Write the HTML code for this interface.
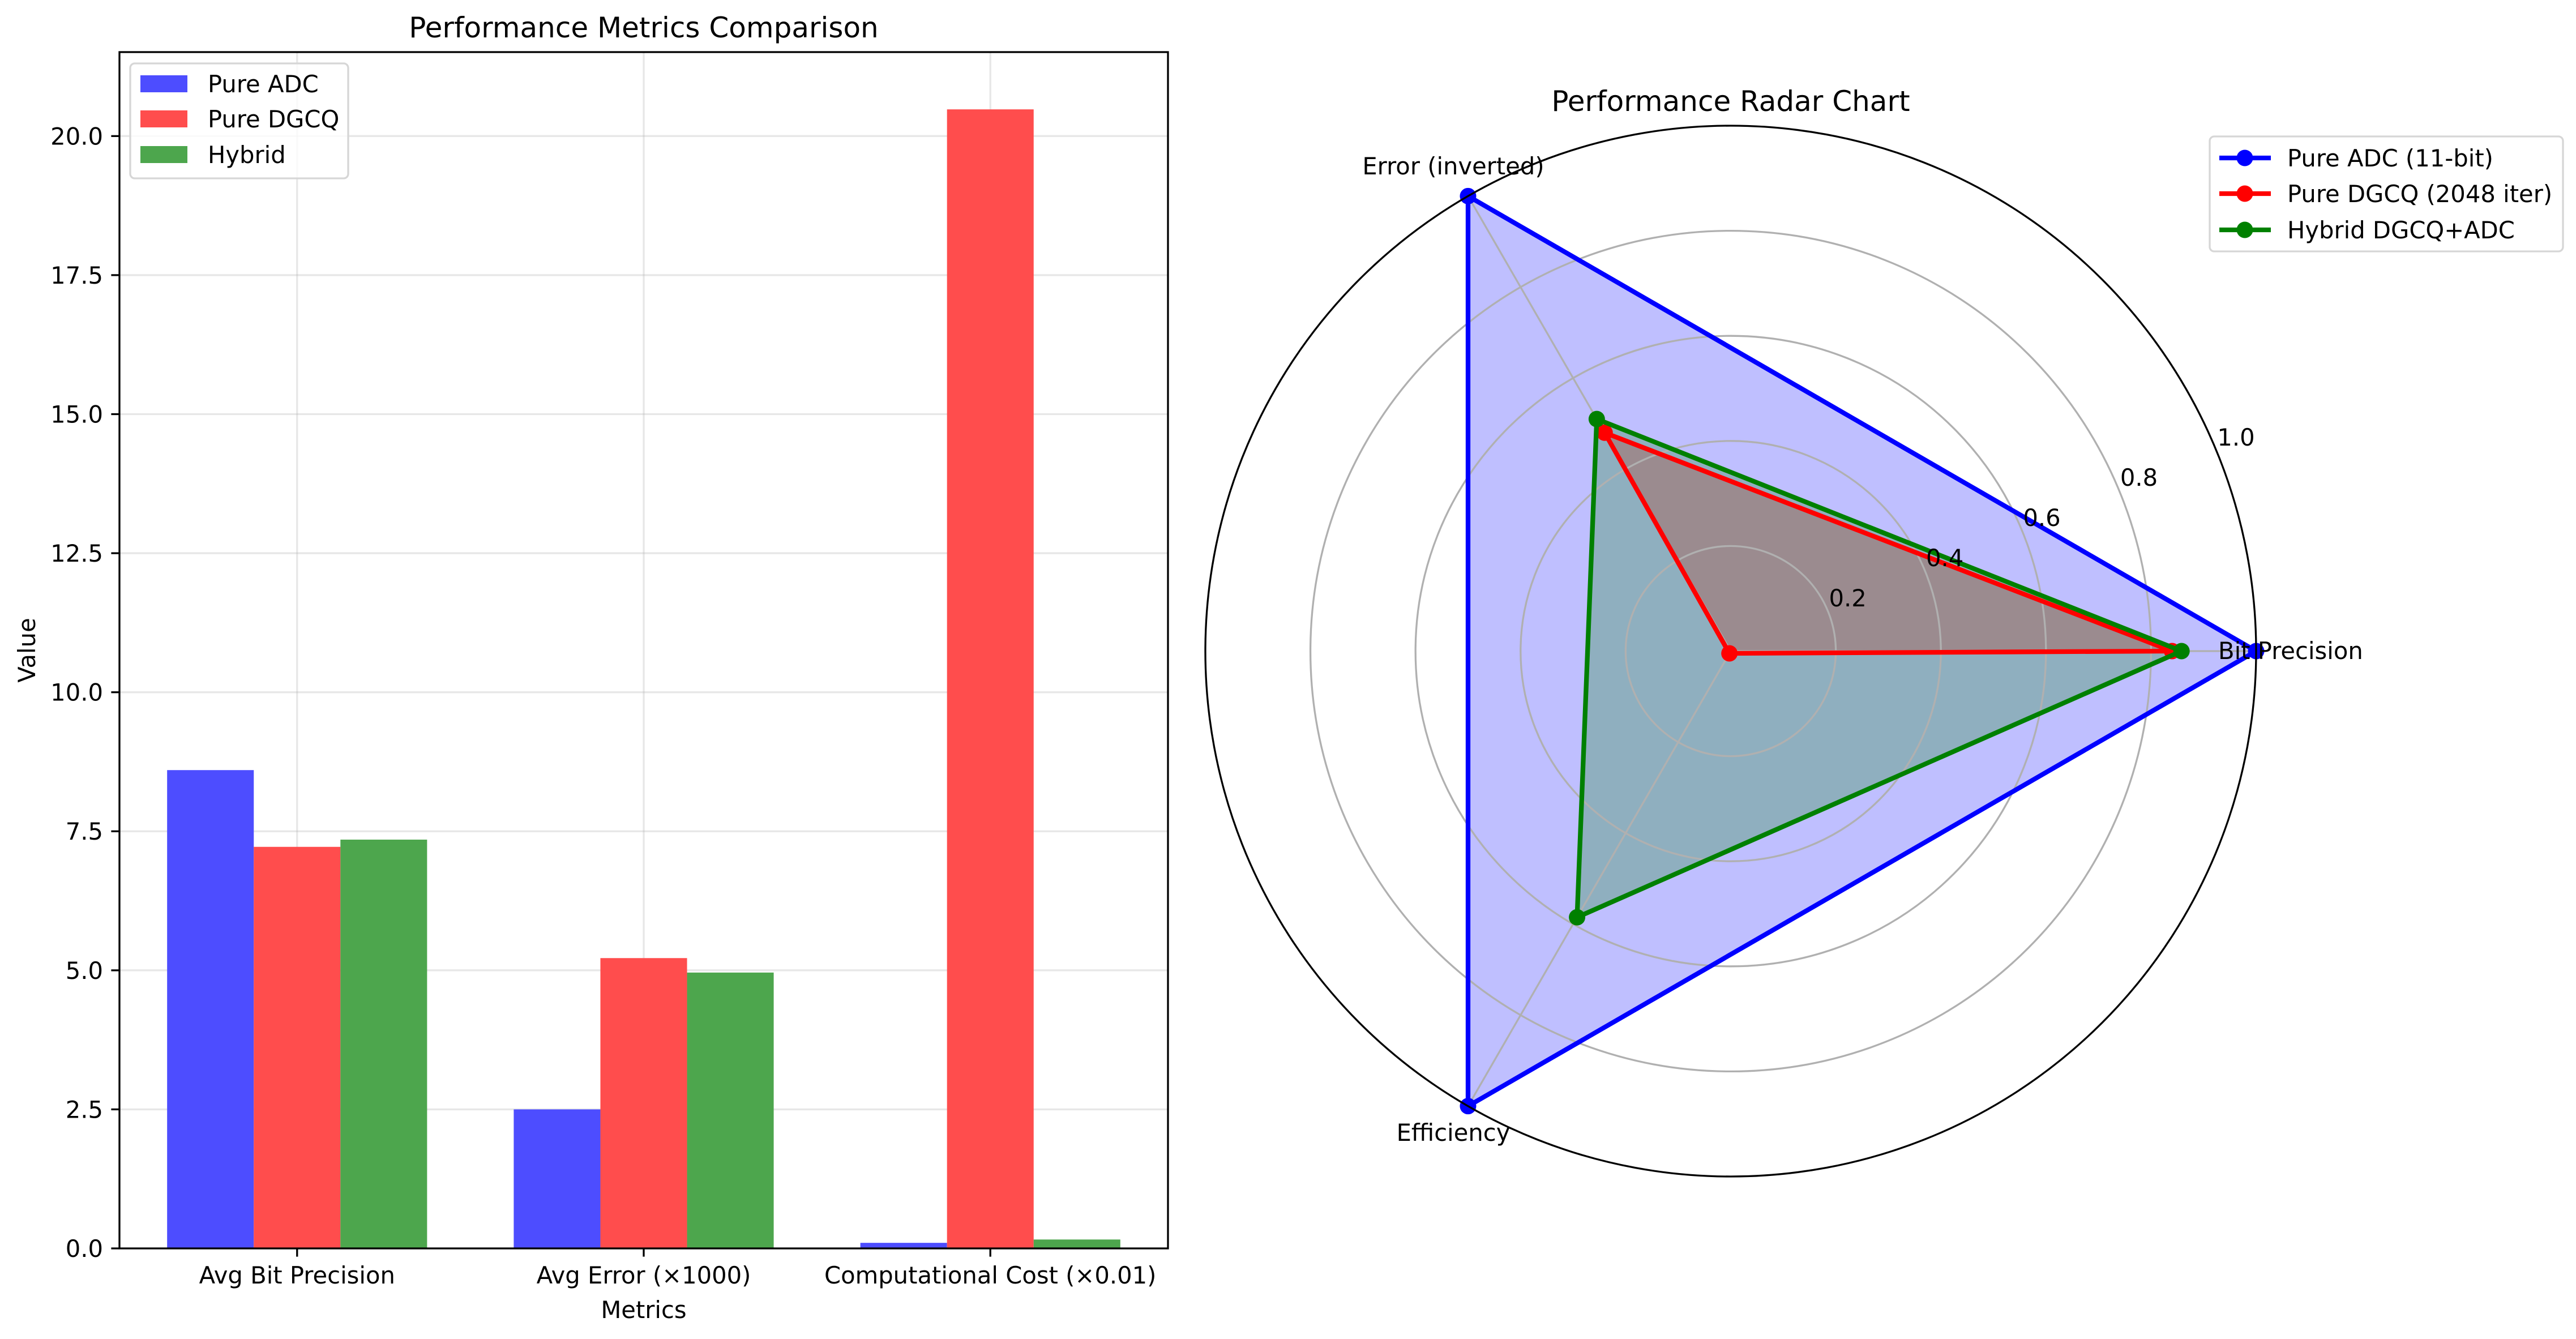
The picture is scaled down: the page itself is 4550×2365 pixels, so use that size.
<!DOCTYPE html>
<html><head><meta charset="utf-8">
<style>
html,body{margin:0;padding:0;background:#fff;}
svg{display:block;font-family:"DejaVu Sans","Liberation Sans",sans-serif;}
</style></head>
<body>
<svg id="chart" width="4550" height="2365" viewBox="0 0 4550 2365" xmlns="http://www.w3.org/2000/svg">
<rect width="4550" height="2365" fill="#fff"/>
<g id="bar"></g>
<g id="radar"></g>
</svg>
<script>
const categories = ["Avg Bit Precision", "Avg Error (\u00d71000)", "Computational Cost (\u00d70.01)"];
const seriesNames = ["Pure ADC", "Pure DGCQ", "Hybrid"];
const adcValues = [8.6, 2.5, 0.1];
const dgcqValues = [7.22, 5.22, 20.48];
const hybridValues = [7.35, 4.96, 0.16];
const yTicks = [0, 2.5, 5, 7.5, 10, 12.5, 15, 17.5, 20];
const yTickLabels = ["0.0", "2.5", "5.0", "7.5", "10.0", "12.5", "15.0", "17.5", "20.0"];

const radarAxes = ["Bit Precision", "Error (inverted)", "Efficiency"];
const radarNames = ["Pure ADC (11-bit)", "Pure DGCQ (2048 iter)", "Hybrid DGCQ+ADC"];
const radarADC = [1.0, 1.0, 1.0];
const radarDGCQ = [0.84, 0.48, 0.005];
const radarHybrid = [0.858, 0.51, 0.585];
const rTicks = [0.2, 0.4, 0.6, 0.8, 1.0];
const rTickLabels = ["0.2", "0.4", "0.6", "0.8", "1.0"];

const NS = "http://www.w3.org/2000/svg";
function mk(parent, tag, attrs, text) {
  const e = document.createElementNS(NS, tag);
  for (const k in attrs) e.setAttribute(k, attrs[k]);
  if (text !== undefined) e.textContent = text;
  parent.appendChild(e);
  return e;
}

// ---------- Bar chart ----------
const bar = document.getElementById('bar');
const AX = {l: 211, r: 2063, t: 92, b: 2205};
const xMin = -0.5125, xMax = 2.5125, yMin = 0, yMax = 21.51;
const xs = v => AX.l + (v - xMin) / (xMax - xMin) * (AX.r - AX.l);
const ys = v => AX.b - (v - yMin) / (yMax - yMin) * (AX.b - AX.t);
const FS = 41.7;

yTicks.forEach((t, i) => {
  const g = mk(bar, 'line', {x1: AX.l, x2: AX.r, y1: ys(t), y2: ys(t), stroke: '#b0b0b0', 'stroke-opacity': 0.3, 'stroke-width': 3.3});
  
  
});
categories.forEach((c, i) => {
  const g = mk(bar, 'line', {x1: xs(i), x2: xs(i), y1: AX.t, y2: AX.b, stroke: '#b0b0b0', 'stroke-opacity': 0.3, 'stroke-width': 3.3});
  
  
});

const allSeries = [adcValues, dgcqValues, hybridValues];
const barColors = ['#4d4dff', '#ff4d4d', '#4da64d'];
const bw = 0.25;
allSeries.forEach((vals, s) => {
  vals.forEach((v, i) => {
    const x0 = xs(i + (s - 1) * bw - bw / 2), x1 = xs(i + (s - 1) * bw + bw / 2);
    const r = mk(bar, 'rect', {x: x0, y: ys(v), width: x1 - x0, height: ys(0) - ys(v), fill: barColors[s]});
    
    
  });
});

const sp = mk(bar, 'rect', {x: AX.l, y: AX.t, width: AX.r - AX.l, height: AX.b - AX.t, fill: 'none', stroke: '#000', 'stroke-width': 3.3});



yTicks.forEach((t, i) => {
  const tl = mk(bar, 'line', {x1: AX.l - 14.6, x2: AX.l, y1: ys(t), y2: ys(t), stroke: '#000', 'stroke-width': 3.3});
  
  
  const tx = mk(bar, 'text', {x: AX.l - 29, y: ys(t) + 15, 'text-anchor': 'end', 'font-size': FS}, yTickLabels[i]);
  
  
});
categories.forEach((c, i) => {
  const tl = mk(bar, 'line', {x1: xs(i), x2: xs(i), y1: AX.b, y2: AX.b + 14.6, stroke: '#000', 'stroke-width': 3.3});
  
  
  const tx = mk(bar, 'text', {x: xs(i), y: AX.b + 62, 'text-anchor': 'middle', 'font-size': FS}, c);
  
  
});
let t;
t = mk(bar, 'text', {x: (AX.l + AX.r) / 2, y: 2328, 'text-anchor': 'middle', 'font-size': FS}, 'Metrics');


t = mk(bar, 'text', {x: 0, y: 0, 'text-anchor': 'middle', 'font-size': FS, transform: 'translate(62,' + (AX.t + AX.b) / 2 + ') rotate(-90)'}, 'Value');


t = mk(bar, 'text', {x: (AX.l + AX.r) / 2, y: 66, 'text-anchor': 'middle', 'font-size': 50}, 'Performance Metrics Comparison');



const lg = mk(bar, 'g', {});


mk(lg, 'rect', {x: 230, y: 112, width: 385, height: 203, rx: 8, fill: '#fff', 'fill-opacity': 0.8, stroke: '#d6d6d6', 'stroke-width': 3.3});
const lgRows = [148, 210, 273];
seriesNames.forEach((n, i) => {
  const e = mk(lg, 'g', {});
  
  
  mk(e, 'rect', {x: 248, y: lgRows[i] - 15, width: 83, height: 30, fill: barColors[i]});
  mk(e, 'text', {x: 367, y: lgRows[i] + 15, 'font-size': FS}, n);
});

// ---------- Radar ----------
const rad = document.getElementById('radar');
const CX = 3057, CY = 1150, R = 928;
const angles = radarAxes.map((a, i) => i * 2 * Math.PI / radarAxes.length);
const px = (r, a) => CX + r * R * Math.cos(a);
const py = (r, a) => CY - r * R * Math.sin(a);

const radarSeries = [radarADC, radarDGCQ, radarHybrid];
const radarColors = ['#0000ff', '#ff0000', '#008000'];
const ptsOf = vals => vals.map((v, i) => px(v, angles[i]) + ',' + py(v, angles[i])).join(' ');

// fills first
radarSeries.forEach((vals, s) => {
  const f = mk(rad, 'polygon', {points: ptsOf(vals), fill: radarColors[s], 'fill-opacity': 0.25, stroke: 'none'});
  
  
});

// gridlines above fills
rTicks.slice(0, -1).forEach(r => {
  const c = mk(rad, 'circle', {cx: CX, cy: CY, r: r * R, fill: 'none', stroke: '#b0b0b0', 'stroke-width': 3.3});
  
  
});
angles.forEach(a => {
  const l = mk(rad, 'line', {x1: CX, y1: CY, x2: px(1, a), y2: py(1, a), stroke: '#b0b0b0', 'stroke-width': 3.3});
  
  
});

// lines and markers
radarSeries.forEach((vals, s) => {
  const ln = mk(rad, 'polygon', {points: ptsOf(vals), fill: 'none', stroke: radarColors[s], 'stroke-width': 8.3, 'stroke-linejoin': 'miter'});
  
  
  vals.forEach((v, i) => {
    const m = mk(rad, 'circle', {cx: px(v, angles[i]), cy: py(v, angles[i]), r: 14.5, fill: radarColors[s]});
    
    
  });
});

const spine = mk(rad, 'circle', {cx: CX, cy: CY, r: R, fill: 'none', stroke: '#000', 'stroke-width': 3.3});



const la = 22.5 * Math.PI / 180;
rTicks.forEach((r, i) => {
  const tx = mk(rad, 'text', {x: px(r, la) + 2, y: py(r, la) - 8, 'font-size': FS}, rTickLabels[i]);
  
  
});

const axLabelPos = [
  {x: 3918, y: 1164, anchor: 'start'},
  {x: 2567, y: 308, anchor: 'middle'},
  {x: 2567, y: 2015, anchor: 'middle'}
];
radarAxes.forEach((a, i) => {
  const tx = mk(rad, 'text', {x: axLabelPos[i].x, y: axLabelPos[i].y, 'text-anchor': axLabelPos[i].anchor, 'font-size': FS}, a);
  
  
});

t = mk(rad, 'text', {x: CX, y: 196, 'text-anchor': 'middle', 'font-size': 50}, 'Performance Radar Chart');



const rl = mk(rad, 'g', {});


mk(rl, 'rect', {x: 3903, y: 241, width: 624, height: 203, rx: 8, fill: '#fff', 'fill-opacity': 0.8, stroke: '#d6d6d6', 'stroke-width': 3.3});
const rlRows = [279, 342, 406];
radarNames.forEach((n, i) => {
  const e = mk(rl, 'g', {});
  
  
  mk(e, 'line', {x1: 3920, x2: 4011, y1: rlRows[i], y2: rlRows[i], stroke: radarColors[i], 'stroke-width': 8.3});
  mk(e, 'circle', {cx: 3965, cy: rlRows[i], r: 14.5, fill: radarColors[i]});
  mk(e, 'text', {x: 4040, y: rlRows[i] + 15, 'font-size': FS}, n);
});
</script>
</body></html>
